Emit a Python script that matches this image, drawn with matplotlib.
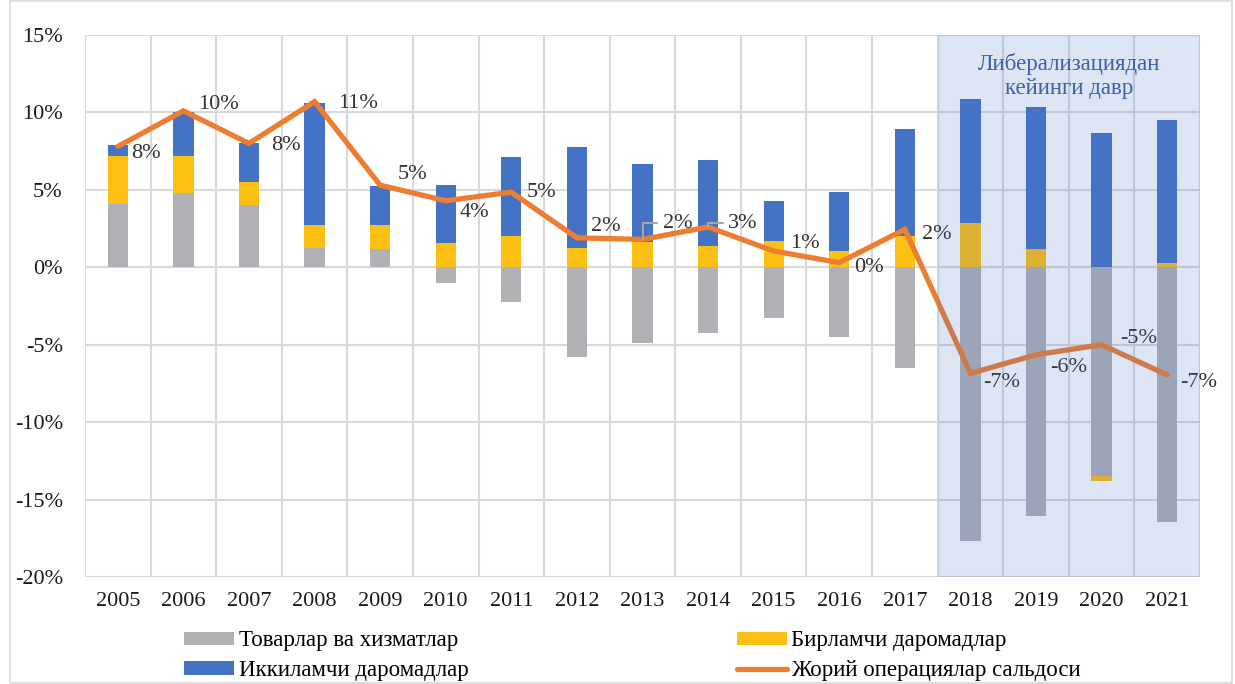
import numpy as np
import matplotlib.pyplot as plt
from matplotlib.patches import Rectangle

# dane (% od PKB)
lata = ['2005', '2006', '2007', '2008', '2009', '2010', '2011', '2012', '2013',
        '2014', '2015', '2016', '2017', '2018', '2019', '2020', '2021']
towary = [4.1, 4.8, 4.0, 1.25, 1.15, -1.0, -2.25, -5.8, -4.9, -4.25, -3.25, -4.5,
          -6.5, -17.7, -16.05, -13.45, -16.45]
pierwotne = [3.1, 2.4, 1.5, 1.45, 1.55, 1.6, 2.0, 1.25, 1.65, 1.4, 1.7, 1.05,
             2.0, 2.85, 1.2, -0.35, 0.25]
wtorne = [0.7, 2.8, 2.5, 7.9, 2.55, 3.7, 5.1, 6.5, 5.05, 5.5, 2.6, 3.8,
          6.95, 8.0, 9.15, 8.7, 9.25]
saldo = [7.8, 10.1, 8.0, 10.7, 5.3, 4.3, 4.85, 1.9, 1.8, 2.6, 1.05, 0.3,
         2.45, -6.85, -5.65, -5.0, -6.95]

nazwy = ['Товарлар ва хизматлар', 'Бирламчи даромадлар', 'Иккиламчи даромадлар',
         'Жорий операциялар сальдоси']
kolory = ['#b0b1b5', '#fbc013', '#4472c4', '#ed7d31']

# przesuniecia etykiet (piksele: dx w prawo, dy w dol)
etyk_dx = [28, 35, 37, 43, 32, 29, 30, 29, 35, 35, 31, 30, 32, 31, 33, 37, 31]
etyk_dy = [7, -6, 2, 2, -11, 12, 0, -11, -16, -4, -8, 5, 5, 9, 13, -6, 8]

plt.rcParams['font.family'] = ['Liberation Serif', 'DejaVu Serif']

fig = plt.figure(figsize=(12.35, 6.84), dpi=100)
ax = fig.add_axes([85/1235, 1-577/684, 1115/1235, 542/684])

x = np.arange(len(lata))
szer = 0.31

baza_plus = np.zeros(len(lata))
baza_minus = np.zeros(len(lata))
uchwyty = []
for seria, kolor, nazwa in zip([towary, pierwotne, wtorne], kolory[:3], nazwy[:3]):
    v = np.array(seria)
    dol = np.where(v >= 0, baza_plus, baza_minus)
    b = ax.bar(x, v, szer, bottom=dol, color=kolor, label=nazwa, zorder=3)
    uchwyty.append(b)
    baza_plus = baza_plus + np.where(v >= 0, v, 0)
    baza_minus = baza_minus + np.where(v < 0, v, 0)

linia, = ax.plot(x, saldo, color=kolory[3], lw=3.8, label=nazwy[3], zorder=5,
                 solid_joinstyle='miter', solid_capstyle='round')

for i in range(len(lata)):
    tekst = '%d%%' % round(saldo[i])
    dx = etyk_dx[i] * 0.72
    dy = -etyk_dy[i] * 0.72
    if i in (8, 9):
        # etykiety z linia odniesienia
        ax.annotate(tekst, (x[i], saldo[i]), xytext=(dx, dy), textcoords='offset points',
                    ha='center', va='center', fontsize=16, color='#333333', zorder=6,
                    arrowprops=dict(arrowstyle='-', color='#a5a5a5', lw=1.5,
                                    connectionstyle='angle,angleA=0,angleB=90,rad=0',
                                    shrinkA=2, shrinkB=0))
    else:
        ax.annotate(tekst, (x[i], saldo[i]), xytext=(dx, dy), textcoords='offset points',
                    ha='center', va='center', fontsize=16, color='#333333', zorder=6)

# okres po liberalizacji
ax.axvspan(12.5, 16.5, color='#4472c4', alpha=0.18, lw=0, zorder=8)
ax.text(14.5, 12.35, 'Либерализациядан\nкейинги давр', ha='center', va='center',
        fontsize=16.5, color='#3b63a9', linespacing=1.22, zorder=9)

ax.set_xlim(-0.5, 16.5)
ax.set_ylim(-20, 15)
ax.set_yticks(np.arange(-20, 16, 5))
ax.set_yticklabels(['%d%%' % t for t in np.arange(-20, 16, 5)])
ax.set_xticks(x)
ax.set_xticklabels(lata)
ax.set_xticks(np.arange(-0.5, 17, 1), minor=True)
ax.tick_params(axis='both', which='both', length=0, labelsize=16, colors='#1a1a1a')
ax.tick_params(axis='y', pad=16)
ax.tick_params(axis='x', pad=11)
ax.grid(True, axis='y', which='major', color='#d9d9d9', lw=1.5, zorder=0)
ax.grid(True, axis='x', which='minor', color='#d9d9d9', lw=1.5, zorder=0)
for s in ax.spines.values():
    s.set_visible(False)

fig.legend([uchwyty[0], uchwyty[2], uchwyty[1], linia],
           [nazwy[0], nazwy[2], nazwy[1], nazwy[3]],
           ncol=2, loc='upper left', bbox_to_anchor=(173/1235, 1-619/684),
           frameon=False, fontsize=16.5, borderpad=0, handlelength=2.18,
           handleheight=0.52, handletextpad=0.2, columnspacing=11.7,
           labelspacing=0.38)

fig.add_artist(Rectangle((10/1235, 0.002), 1222/1235, 0.996, transform=fig.transFigure,
                         fill=False, edgecolor='#d9d9d9', lw=1.2))

fig.savefig('out.png', dpi=100)
